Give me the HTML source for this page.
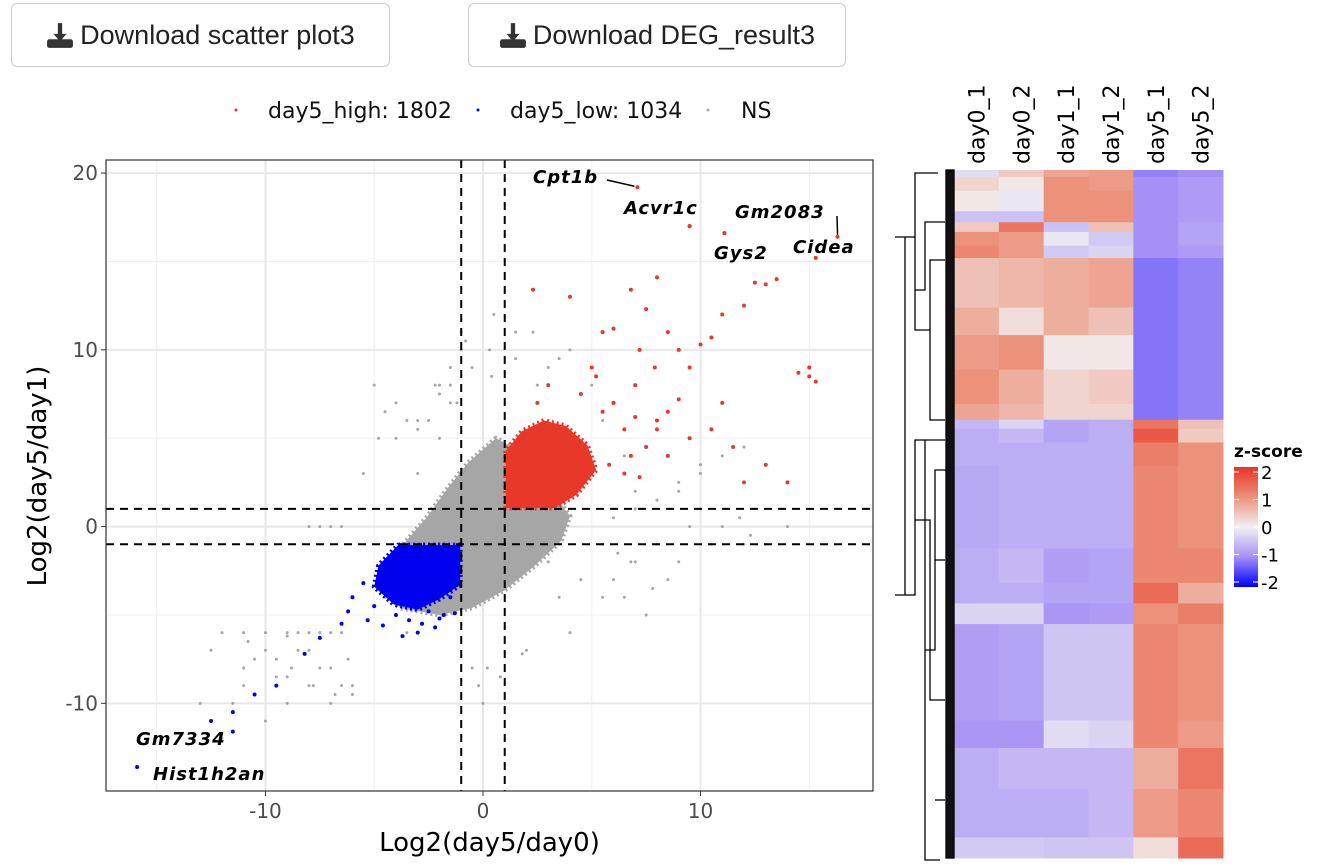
<!DOCTYPE html>
<html><head><meta charset="utf-8"><style>
body{margin:0;width:1320px;height:866px;background:#fff;font-family:"DejaVu Sans","Liberation Sans",sans-serif;overflow:hidden;position:relative}
.btn{position:absolute;top:3px;height:64px;border:1.5px solid #ccc;border-radius:6px;background:#fff;box-sizing:border-box;font-size:27px;color:#222;display:flex;align-items:center;justify-content:center;gap:6px;font-family:"Liberation Sans",sans-serif}
</style></head><body>
<div class="btn" style="left:11px;width:379px"><svg width="28" height="28" viewBox="0 0 26 26"><path d="M11 2h4v10h4l-6 7-6-7h4z" fill="#333"/><rect x="1" y="17" width="24" height="8" rx="2" fill="#333"/></svg>Download scatter plot3</div>
<div class="btn" style="left:468px;width:378px"><svg width="28" height="28" viewBox="0 0 26 26"><path d="M11 2h4v10h4l-6 7-6-7h4z" fill="#333"/><rect x="1" y="17" width="24" height="8" rx="2" fill="#333"/></svg>Download DEG_result3</div>
<svg id="sc" width="1320" height="866" style="position:absolute;left:0;top:0"></svg>
<script>
// ---------- data ----------
const xTicks=[-10,0,10];
const yTicks=[-10,0,10,20];
const xMinor=[-15,-5,5,15];
const yMinor=[-5,5,15];
const legendLabels=["day5_high: 1802","day5_low: 1034","NS"];
const greyCore=[[-4.8,-2.8],[-3.8,-1.2],[-2.6,0.5],[-1.6,2.2],[-0.7,3.6],[0.6,5],[1.8,4.2],[3,2.2],[4,0.6],[3.6,-0.8],[2.3,-2.3],[1,-3.6],[-0.5,-4.6],[-2,-5],[-3.8,-4.6]];
const redCore=[[1.05,1.05],[1.05,4.3],[1.8,5.4],[2.8,6],[3.8,5.7],[4.8,4.6],[5.2,3.2],[4.3,1.8],[3.3,1.05]];
const blueCore=[[-1.05,-1.05],[-3.9,-1.05],[-4.8,-2.2],[-5,-3.4],[-4.1,-4.4],[-3,-4.7],[-2,-4.1],[-1.05,-3.3]];
const greyX=[-8,-7.5,-7,-6.5,-4.5,-3,-2,-1.5,-0.5,0.3,0.5,1.5,2.5,3,4,5,5.5,6.5,7,8,9,10,11,12,13,14,-12,-11,-10,-9,-8.5,-8,-7.5,-7,-6.5,-6,-10.5,-9.5,-8,-7,-11,-12.5,-5,-4,-4.5,-3.5,-2.5,-1.2,0,0.2,2,4,5.5,6,7,8.5,9.5,10.5,-9,-10,-3,-2,-1.5,-1,0,-6,-6.5,3,3.5,4.5,6.5,7.5,9,10,-1,-2.2,-0.2,-11.5,-12,-13,-4,-3.5,-3,-2.5,-2,-1.5,-0.8,0.4,1.5,2.3,3.5,-5.5,-4.8,-9,-8.5,-8,-7.5,-7,-10,-9.5,-8.8,-6.2,-10.8,-11,-9,-7.8,-6.8,6,7,8,9,10,11,12,6.2,6.8,7.8,11.8,12.3,5.5,-0.5,0.8,1.8];
const greyY=[0,0,0,0,6.5,6,8,7,9,10,12,11,8,9,10,8,6,4,2,-1,-2,1,0,-1,-1,0,-6,-6,-6,-6.2,-7,-7,-8,-8,-9,-9.5,-7.5,-8.5,-9,-10,-9,-7,8,5,-4,-6,-4,7,2,-8,-7,-6,-1,-3,-2,-3,0,-1,-10,-11,3,5,8,10,-10,-9,-6,-2,-4,-3,-4,-5,2,3,11,8,-9,-10,-12,-10,7,6,5.5,6,7.5,9,10.5,8.5,9.5,11,9.5,3,5,-6,-6,-6,-6,-6,-7,-7.5,-8,-7.5,-6.5,-8,-8.5,-9,-9.5,0.5,1,1.5,2.5,3.5,4,4.5,-1.5,-2,-3.5,0.5,-0.5,-4,-8,-8.5,-7.2];
const redX=[2.3,4,6.8,8,9.5,11.1,12.5,13,5.5,6,7.5,8.5,9,10,10.5,11,12,13.5,15,15.3,15,14.5,9.5,10.5,11.5,13,14,6,7,8,9.5,4.5,5,3.5,6.5,8.5,11,12,7.2,7.9,5.2,3,2.5,5.5,6,6.5,7,7.5,8,8.5,9,5.8,6.8,7.2];
const redY=[13.4,13,13.4,14.1,17,16.6,13.8,13.7,11,11.2,12.3,11,10,10.3,10.7,12,12.5,14,8.5,8.2,9,8.7,5,5.5,4.5,3.5,2.5,7,8,6,9,7.5,9,5,3,4,7,2.5,10,9,8.5,8,7,6.5,7,5.5,6.2,4.5,5.5,6.5,7.2,3.5,4,2.8];
const blueX=[-5,-6,-6.5,-7.5,-8.2,-9.5,-10.5,-11.5,-12.5,-3,-2.8,-2.2,-1.8,-4.8,-5.5,-3.7,-2.5,-1.5,-4,-6.2,-5.3,-4.6,-3.4,-2,-1.3];
const blueY=[-4.5,-4,-5.5,-6.3,-7.2,-9,-9.5,-10.5,-11,-6,-5.5,-5.7,-5,-3,-3.2,-6.2,-4.8,-4,-5,-4.8,-5.3,-5.6,-5.3,-5.2,-4.9];
const labels=[["Cpt1b",7.1,19.2,533,183],["Acvr1c",9.5,17,624,214],["Gm2083",16.3,16.4,735,218],["Gys2",11.1,16.6,714,259],["Cidea",15.3,15.2,793,253],["Gm7334",-11.5,-11.6,136,745],["Hist1h2an",-15.9,-13.6,153,780]];
const hmCols=["day0_1","day0_2","day1_1","day1_2","day5_1","day5_2"];
const hmBlocks=[ // [startFrac,endFrac,z per column]
[0.000,0.010,[-0.2,0.4,0.8,0.9,-1.1,-1.0]],
[0.010,0.030,[0.3,0.1,1.0,0.9,-1.0,-0.9]],
[0.030,0.060,[0.1,-0.1,1.0,1.0,-1.0,-0.9]],
[0.060,0.076,[-0.5,-0.5,1.0,1.0,-1.0,-0.9]],
[0.076,0.090,[0.4,1.3,-0.5,0.5,-1.0,-0.8]],
[0.090,0.110,[1.0,0.9,-0.1,-0.4,-1.0,-0.8]],
[0.110,0.128,[1.1,0.9,-0.4,-0.3,-1.0,-0.9]],
[0.128,0.200,[0.5,0.6,0.7,0.8,-1.2,-1.1]],
[0.200,0.240,[0.7,0.2,0.7,0.5,-1.2,-1.1]],
[0.240,0.290,[0.9,1.0,0.1,0.1,-1.2,-1.1]],
[0.290,0.340,[1.0,0.7,0.3,0.4,-1.2,-1.1]],
[0.340,0.363,[0.8,0.6,0.3,0.3,-1.2,-1.1]],
[0.363,0.376,[-0.6,-0.3,-0.8,-0.7,1.3,0.5]],
[0.376,0.396,[-0.7,-0.6,-0.8,-0.7,1.6,0.4]],
[0.396,0.430,[-0.7,-0.7,-0.7,-0.7,1.2,1.0]],
[0.430,0.550,[-0.75,-0.7,-0.7,-0.7,1.1,1.0]],
[0.550,0.600,[-0.7,-0.6,-0.85,-0.8,1.1,1.1]],
[0.600,0.630,[-0.7,-0.7,-0.8,-0.8,1.4,0.7]],
[0.630,0.660,[-0.3,-0.3,-0.95,-0.9,1.0,1.2]],
[0.660,0.800,[-0.85,-0.8,-0.45,-0.45,1.1,1.0]],
[0.800,0.840,[-0.95,-0.95,-0.2,-0.3,1.1,0.9]],
[0.840,0.900,[-0.7,-0.6,-0.6,-0.6,0.7,1.3]],
[0.900,0.970,[-0.7,-0.7,-0.7,-0.6,0.9,1.1]],
[0.970,1.000,[-0.4,-0.4,-0.45,-0.45,0.2,1.4]]];
const zTicks=[2,1,0,-1,-2];

// ---------- scales ----------
const NS="http://www.w3.org/2000/svg";
const svg=document.getElementById('sc');
const X0=106,X1=873,Y0=160,Y1=791,XMIN=-17.33,XMAX=17.93,YMIN=-14.96,YMAX=20.74;
const sx=v=>X0+(v-XMIN)/(XMAX-XMIN)*(X1-X0);
const sy=v=>Y1-(v-YMIN)/(YMAX-YMIN)*(Y1-Y0);
function mk(t,a,p){const e=document.createElementNS(NS,t);for(const k in a)e.setAttribute(k,a[k]);(p||svg).appendChild(e);return e;}
xMinor.forEach(v=>{const l=mk('line',{x1:sx(v),x2:sx(v),y1:Y0,y2:Y1,stroke:'#f0f0f0','stroke-width':1});});
yMinor.forEach(v=>{const l=mk('line',{x1:X0,x2:X1,y1:sy(v),y2:sy(v),stroke:'#f0f0f0','stroke-width':1});});
xTicks.forEach(v=>{const l=mk('line',{x1:sx(v),x2:sx(v),y1:Y0,y2:Y1,stroke:'#e8e8e8','stroke-width':2});
 mk('line',{x1:sx(v),x2:sx(v),y1:Y1,y2:Y1+5,stroke:'#333'});
 const t=mk('text',{x:sx(v),y:Y1+27,'text-anchor':'middle','font-size':20,fill:'#4d4d4d'});t.textContent=v;});
yTicks.forEach(v=>{const l=mk('line',{x1:X0,x2:X1,y1:sy(v),y2:sy(v),stroke:'#e8e8e8','stroke-width':2});
 mk('line',{x1:X0-5,x2:X0,y1:sy(v),y2:sy(v),stroke:'#333'});
 const t=mk('text',{x:X0-8,y:sy(v)+7,'text-anchor':'end','font-size':20,fill:'#4d4d4d'});t.textContent=v;});
function poly(d,c,name){const p=mk('polygon',{points:d.map(q=>sx(q[0])+','+sy(q[1])).join(' '),fill:c,stroke:c,'stroke-width':5,'stroke-linejoin':'round','stroke-dasharray':'2,3'});}
function pts(xs,ys,c,r,name){xs.forEach((x,i)=>{const e=mk('circle',{cx:sx(x),cy:sy(ys[i]),r:r,fill:c});});}
poly(greyCore,'#a6a6a6','ns-density-core');
pts(greyX,greyY,'#a6a6a6',1.5,'ns-point');
poly(redCore,'#e8382a','high-density-core');
poly(blueCore,'#0000ee','low-density-core');
pts(redX,redY,'#e8382a',2,'high-point');
pts(blueX,blueY,'#0000ee',2,'low-point');
[-1,1].forEach(v=>{const a=mk('line',{x1:sx(v),x2:sx(v),y1:Y0,y2:Y1,stroke:'#000','stroke-width':2,'stroke-dasharray':'8,6'});
 const b=mk('line',{x1:X0,x2:X1,y1:sy(v),y2:sy(v),stroke:'#000','stroke-width':2,'stroke-dasharray':'8,6'});});
labels.forEach(L=>{const c=mk('circle',{cx:sx(L[1]),cy:sy(L[2]),r:2,fill:L[2]>0?'#e8382a':'#0000ee'});
 const t=mk('text',{x:L[3],y:L[4],'font-size':18,'font-weight':'bold','font-style':'italic','letter-spacing':'1'});t.textContent=L[0];});
mk('line',{x1:607,y1:180,x2:sx(7.1)-3,y2:sy(19.2)-1,stroke:'#000','stroke-width':1.5});
mk('line',{x1:837,y1:216,x2:sx(16.3),y2:sy(16.4)-2,stroke:'#000','stroke-width':1.5});
const fr=mk('rect',{x:X0,y:Y0,width:X1-X0,height:Y1-Y0,fill:'none',stroke:'#333','stroke-width':1.2});
let t=mk('text',{x:(X0+X1)/2,y:851,'text-anchor':'middle','font-size':26});t.textContent='Log2(day5/day0)';
t=mk('text',{x:0,y:0,'text-anchor':'middle','font-size':26,transform:'translate(46,476) rotate(-90)'});t.textContent='Log2(day5/day1)';
const lgX=[236,478,708],lgC=['#e8382a','#0000ee','#a6a6a6'],lgT=[268,510,741];
legendLabels.forEach((s,i)=>{const c=mk('circle',{cx:lgX[i],cy:110,r:1.5,fill:lgC[i]});
 const e=mk('text',{x:lgT[i],y:118,'font-size':22,fill:'#111'});e.textContent=s;});
// heatmap
const HX0=954,HX1=1223,HY0=170,HY1=858,cw=(HX1-HX0)/hmCols.length;
const stops=[[-2,[0,0,255]],[-1,[165,145,245]],[0,[242,240,242]],[1,[236,145,122]],[2,[232,52,38]]];
function col(z){z=Math.max(-2,Math.min(2,z));for(let i=0;i<4;i++){const a=stops[i],b=stops[i+1];if(z<=b[0]){const f=(z-a[0])/(b[0]-a[0]);return 'rgb('+a[1].map((v,k)=>Math.round(v+(b[1][k]-v)*f)).join(',')+')';}}}
hmBlocks.forEach(B=>{if(B[1]<=B[0])return;B[2].forEach((z,j)=>{const r=mk('rect',{x:HX0+j*cw,y:HY0+B[0]*(HY1-HY0),width:cw+0.5,height:(B[1]-B[0])*(HY1-HY0)+0.5,fill:col(z)});});});
hmCols.forEach((c,j)=>{const e=mk('text',{x:0,y:0,'font-size':22,transform:'translate('+(HX0+j*cw+cw/2+8)+',164) rotate(-90)'});e.textContent=c;});
// dendrogram (simplified)
const dg=mk('g',{stroke:'#000','stroke-width':1.3,fill:'none'});
const dl=["M895,237H905V595H895","M905,237H915V173H938","M915,237V290H925V222H945","M915,290V330H930V260H945","M930,330V420H945","M905,595H915V440H925V860H940","M925,440H945","M925,650H935V470H950","M935,800H945","M915,520H930V700H945","M935,560H945"];
dl.forEach(d=>mk('path',{d:d},dg));
const stripe=mk('rect',{x:946,y:170,width:8,height:688,fill:'#111'},dg);
// color bar
const cb=mk('defs',{});const lg=mk('linearGradient',{id:'zg',x1:0,y1:0,x2:0,y2:1},cb);
[[0,2],[0.25,1],[0.5,0],[0.75,-1],[1,-2]].forEach(s=>mk('stop',{offset:s[0],'stop-color':col(s[1])},lg));
const bar=mk('rect',{x:1234,y:467,width:24,height:120,fill:'url(#zg)'});
t=mk('text',{x:1234,y:457,'font-size':17,'font-weight':'bold'});t.textContent='z-score';
zTicks.forEach((z,i)=>{const y=472+i*27.5;mk('line',{x1:1234,x2:1239,y1:y,y2:y,stroke:'#fff'});mk('line',{x1:1253,x2:1258,y1:y,y2:y,stroke:'#fff'});
 const e=mk('text',{x:1261,y:y+7,'font-size':18});e.textContent=z;});
</script>
</body></html>
